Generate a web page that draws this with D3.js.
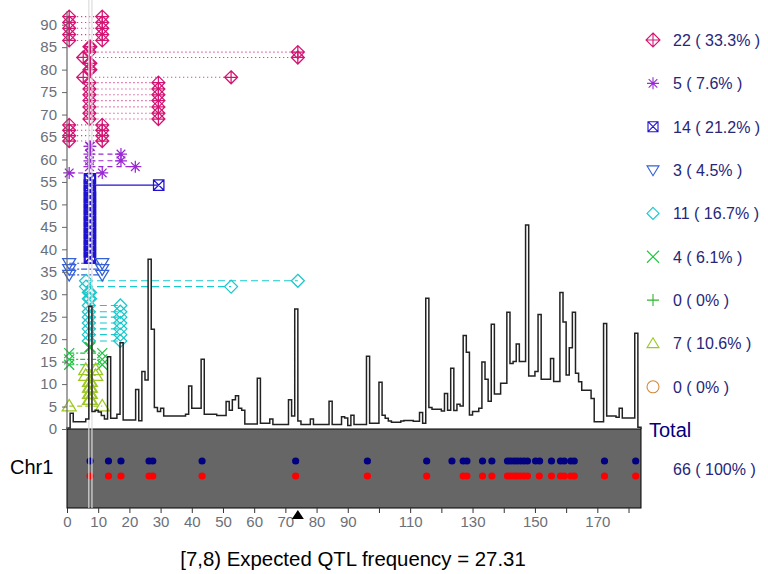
<!DOCTYPE html>
<html>
<head>
<meta charset="utf-8">
<title>QTL frequency - Chr1</title>
<script src="https://d3js.org/d3.v7.min.js"></script>
<style>
  body { margin: 0; background: #fff; }
  text { font-family: "Liberation Sans", Arial, sans-serif; }
</style>
</head>
<body>
<div id="chart"></div>
<script>
// expected QTL frequency per cM bin: [bin start (cM), frequency]
const freqSteps = [
  [0,0.2],[1,3.5],[2,1.6],[6,2.2],[7,27.31],[8,3.9],[9,4.2],[10,3.8],[11,3.0],[12,2.2],
  [13,16.1],[14,2.4],[16,3.3],[17,19.2],[18,2.0],[22,8.8],[23,1.85],[24,12.8],[25,10.9],[26,37.8],
  [27,22.2],[28,4.8],[29,3.9],[30,4.6],[31,2.9],[38,3.3],[39,9.6],[40,4.6],[43,15.5],[44,3.3],
  [48,3.0],[51,6.1],[52,4.2],[53,6.5],[54,7.4],[55,4.6],[56,4.2],[57,1.1],[61,11.3],[62,1.27],
  [65,2.2],[66,1.0],[71,6.5],[72,2.9],[73,26.7],[74,1.8],[75,1.0],[78,2.2],[79,1.0],[84,6.2],
  [85,1.0],[88,2.7],[89,2.45],[90,0.8],[91,3.05],[92,1.0],[96,16.2],[97,1.27],[100,10.4],[101,3.05],
  [102,2.4],[103,1.8],[104,1.5],[107,1.8],[108,1.9],[111,1.7],[113,3.7],[114,1.27],[115,29.1],[116,4.8],
  [117,4.4],[120,4.0],[121,7.9],[122,4.2],[123,13.5],[124,4.1],[125,5.5],[126,5.1],[127,20.8],[128,17.1],
  [129,3.1],[130,3.9],[132,4.6],[133,14.9],[134,11.1],[135,6.2],[136,23.3],[137,7.8],[139,10.2],[141,26.0],
  [142,14.6],[143,15.0],[144,18.9],[145,15.0],[147,45.4],[148,11.8],[150,12.8],[151,25.5],[152,11.1],[155,15.7],
  [156,10.6],[158,30.4],[159,23.8],[160,12.0],[161,18.1],[162,26.0],[163,12.4],[164,10.5],[165,8.6],[168,6.8],
  [169,1.6],[172,23.5],[173,2.9],[176,2.6],[177,4.6],[178,2.45],[182,21.3],[183,0.4]
];
const chrEnd = 184;

// QTL intervals: [trait type, left cM, right cM, drawing level]
const qtls = [
  [0,0.7,11.3,91.8],[0,0.7,11.3,90.5],[0,0.7,11.3,89.2],[0,0.7,11.3,87.8],[0,0.7,11.3,86.5],
  [0,7.2,7.5,85.1],[0,7.2,74,83.9],[0,5.2,74,82.7],[0,7.2,7.5,81.4],[0,7.2,7.5,80.0],[0,5.2,52.6,78.3],
  [0,7.2,29.3,77.1],[0,7.2,29.3,75.7],[0,7.2,29.3,74.4],[0,7.2,29.3,73.1],[0,7.2,29.3,71.7],[0,7.2,29.3,70.3],[0,7.2,29.3,69.0],
  [0,0.7,11.3,67.7],[0,0.7,11.3,66.5],[0,0.7,11.3,65.3],[0,0.7,11.3,64.1],
  [1,7.2,7.5,62.9],[1,7.2,17.3,61.2],[1,7.2,17.3,59.7],[1,7.2,21.9,58.4],[1,0.7,11.3,57.0],
  [2,7.2,7.5,55.7],[2,7.2,29.4,54.3],[2,7.2,7.5,53.0],[2,7.2,7.5,51.6],[2,7.2,7.5,50.3],[2,7.2,7.5,48.9],
  [2,7.2,7.5,47.6],[2,7.2,7.5,46.2],[2,7.2,7.5,44.9],[2,7.2,7.5,43.5],[2,7.2,7.5,42.2],[2,7.2,7.5,40.8],
  [2,7.2,7.5,39.5],[2,7.2,7.5,38.1],
  [3,0.7,11.3,36.9],[3,0.7,11.3,35.6],[3,0.7,11.3,34.3],
  [4,6.1,74,33.0],[4,6.1,52.6,31.7],[4,7.0,7.4,30.4],[4,7.0,7.4,29.0],[4,7.0,17.1,27.5],[4,7.0,17.1,26.1],
  [4,7.0,17.1,24.9],[4,7.0,17.1,23.6],[4,7.0,17.1,22.3],[4,7.0,17.1,21.0],[4,7.0,17.1,19.6],
  [5,7.2,7.5,18.2],[5,0.7,11.3,16.9],[5,0.7,11.3,15.5],[5,0.7,11.3,14.3],
  [7,6.0,9.2,13.2],[7,6.0,9.2,11.9],[7,7.2,7.5,10.6],[7,7.2,7.5,9.3],[7,7.2,7.5,7.9],[7,7.2,7.5,6.6],
  [7,0.7,11.3,5.1]
];

// marker positions (cM) on the two map rows
const markersBlue = [7.4,13.3,17.3,26.3,27.5,43.3,73.3,96.3,115.3,123.4,127.0,128.2,133.2,136.2,
  141.2,142.2,143.3,144.3,145.4,146.5,147.6,150.2,151.5,155.3,158.2,159.4,161.5,162.6,172.3,182.3];
const markersRed = [7.4,13.3,17.3,26.3,27.5,43.3,73.3,96.3,115.3,127.0,128.2,133.2,136.2,
  141.2,142.2,143.3,144.3,145.4,146.5,147.6,151.4,155.3,158.2,159.4,161.5,162.6,172.3,182.3];

const selBin = [7, 8];
const selFreq = 27.31;
const arrowPos = 74;

const typeShape = ["diamondPlus","asterisk","boxX","triDown","diamond","cross","plus","triUp","circle"];
const typeColor = ["#d41472","#9a28d4","#2012d0","#3460d8","#18c8cc","#1ec442","#2fb52f","#9cc820","#d4883a"];
const typeDash  = ["1,3","5,4",null,"6,2,2,2","7,4","5,2,2,2","4,2","5,3",null];
const typeR     = [6.5,6,5.2,6.5,6.5,5,5.5,7,5];

const W = 768, H = 574;
const svg = d3.select("#chart").append("svg")
  .attr("width", W).attr("height", H);

const x = d3.scaleLinear().domain([0, chrEnd]).range([67, 641]);
const y = d3.scaleLinear().domain([0, 95.5]).range([429, 0]);
const panelTop = 429, panelBot = 508;

// 畫符號
function shapePath(kind, r) {
  const k = r * 0.72;
  switch (kind) {
    case "diamondPlus": return `M0,${-r}L${r},0L0,${r}L${-r},0Z M0,${-r}V${r} M${-r},0H${r}`;
    case "asterisk": return `M${-r},0H${r} M0,${-r}V${r} M${-k},${-k}L${k},${k} M${-k},${k}L${k},${-k}`;
    case "boxX": return `M${-r},${-r}H${r}V${r}H${-r}Z M${-r},${-r}L${r},${r} M${-r},${r}L${r},${-r}`;
    case "triDown": return `M${-r},${-r*0.7}H${r}L0,${r*0.95}Z`;
    case "diamond": return `M0,${-r}L${r},0L0,${r}L${-r},0Z`;
    case "cross": return `M${-r},${-r}L${r},${r} M${-r},${r}L${r},${-r}`;
    case "plus": return `M${-r},0H${r} M0,${-r}V${r}`;
    case "triUp": return `M${-r},${r*0.7}H${r}L0,${-r*0.95}Z`;
    case "circle": return `M${r},0A${r},${r} 0 1,1 ${-r},0A${r},${r} 0 1,1 ${r},0Z`;
  }
}

// bottom chromosome panel
svg.append("rect")
  .attr("x", x(0)).attr("y", panelTop)
  .attr("width", x(chrEnd) - x(0)).attr("height", panelBot - panelTop)
  .attr("fill", "#666666").attr("stroke", "#000").attr("stroke-width", 1);

svg.append("text")
  .attr("x", 10).attr("y", 474)
  .attr("font-size", "20px").attr("fill", "#000")
  .text("Chr1");

svg.selectAll(".mkB").data(markersBlue).enter().append("circle")
  .attr("cx", d => x(d)).attr("cy", 461).attr("r", 3.6).attr("fill", "#000080");
svg.selectAll(".mkR").data(markersRed).enter().append("circle")
  .attr("cx", d => x(d)).attr("cy", 476).attr("r", 3.6).attr("fill", "#ff0000");

// QTL connecting lines
svg.append("g").selectAll("line").data(qtls).enter().append("line")
  .attr("x1", d => x(d[1])).attr("x2", d => x(d[2]))
  .attr("y1", d => y(d[3])).attr("y2", d => y(d[3]))
  .attr("stroke", d => typeColor[d[0]])
  .attr("stroke-width", 1.1)
  .attr("stroke-dasharray", d => typeDash[d[0]]);

// QTL end symbols
const ends = qtls.flatMap(d => [[d[0], d[1], d[3]], [d[0], d[2], d[3]]]);
svg.append("g").selectAll("path").data(ends).enter().append("path")
  .attr("transform", d => `translate(${x(d[1])},${y(d[2])})`)
  .attr("d", d => shapePath(typeShape[d[0]], typeR[d[0]]))
  .attr("fill", "none")
  .attr("stroke", d => typeColor[d[0]])
  .attr("stroke-width", 1.25);

// selected bin guide lines
svg.append("g").selectAll("line").data(selBin).enter().append("line")
  .attr("x1", d => x(d)).attr("x2", d => x(d))
  .attr("y1", 0).attr("y2", panelBot)
  .attr("stroke", "#dcdcdc").attr("stroke-width", 1.2);

// histogram step line
const pts = [[0, 0]].concat(freqSteps, [[chrEnd, freqSteps[freqSteps.length - 1][1]], [chrEnd, 0]]);
svg.append("path")
  .attr("d", d3.line().x(d => x(d[0])).y(d => y(d[1])).curve(d3.curveStepAfter)(pts))
  .attr("fill", "none").attr("stroke", "#222").attr("stroke-width", 1.5);

// y axis
svg.append("line")
  .attr("x1", x(0)).attr("x2", x(0)).attr("y1", y(93)).attr("y2", y(0))
  .attr("stroke", "#666").attr("stroke-width", 1.2);
const yAxis = svg.append("g").attr("transform", `translate(${x(0)},0)`)
  .call(d3.axisLeft(y).tickValues(d3.range(0, 91, 5)).tickSize(5).tickPadding(5));
yAxis.select(".domain").remove();
yAxis.selectAll(".tick line").attr("stroke", "#666");
yAxis.selectAll(".tick text").attr("fill", "#6b6f78").attr("font-size", "15px")
  .attr("font-family", '"Liberation Sans", Arial, sans-serif');

// x axis
const xAxis = svg.append("g").attr("transform", `translate(0,${panelBot})`)
  .call(d3.axisBottom(x).tickValues(d3.range(0, 181, 10)).tickSize(5).tickPadding(3)
    .tickFormat(d => (d < 100 || d % 20 === 10) ? d : ""));
xAxis.select(".domain").remove();
xAxis.selectAll(".tick line").attr("stroke", "#333");
xAxis.selectAll(".tick text").attr("fill", "#6b6f78").attr("font-size", "15px")
  .attr("font-family", '"Liberation Sans", Arial, sans-serif');

// arrow marker under axis
svg.append("path")
  .attr("transform", `translate(${x(arrowPos)},0)`)
  .attr("d", `M-6,519L6,519L0,510Z`)
  .attr("fill", "#000");

// legend
const total = qtls.length;
const counts = typeShape.map((s, i) => qtls.filter(q => q[0] === i).length);
const pct = c => c === 0 ? "0" : (c * 100 / total).toFixed(1);
const lg = svg.append("g");
counts.forEach((c, i) => {
  const ly = 40 + i * 43.35;
  lg.append("path")
    .attr("transform", `translate(653,${ly})`)
    .attr("d", shapePath(typeShape[i], typeShape[i] === "diamondPlus" ? 7 : typeShape[i] === "boxX" ? 5 : 6))
    .attr("fill", "none").attr("stroke", typeColor[i]).attr("stroke-width", 1.1);
  lg.append("text")
    .attr("x", 673).attr("y", ly + 6)
    .attr("font-size", "16px").attr("fill", "#26267a")
    .text(`${c} ( ${pct(c)}% )`);
});
lg.append("text").attr("x", 649).attr("y", 437)
  .attr("font-size", "20px").attr("fill", "#000080").text("Total");
lg.append("text").attr("x", 673).attr("y", 475)
  .attr("font-size", "16px").attr("fill", "#26267a").text(`${total} ( 100% )`);

// title
svg.append("text")
  .attr("x", 353).attr("y", 566).attr("text-anchor", "middle")
  .attr("font-size", "20.4px").attr("fill", "#000")
  .text(`[${selBin[0]},${selBin[1]}) Expected QTL frequency = ${selFreq}`);
</script>
</body>
</html>
